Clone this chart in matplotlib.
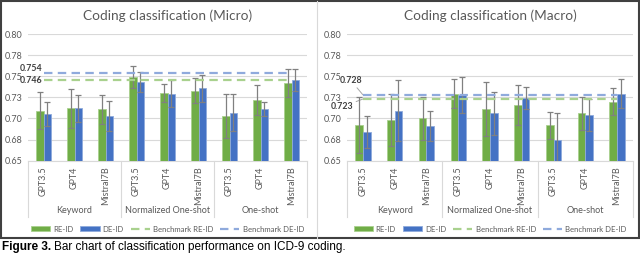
import matplotlib
matplotlib.use("Agg")
import matplotlib.pyplot as plt
from matplotlib.patches import Rectangle
from matplotlib.lines import Line2D
from matplotlib.transforms import blended_transform_factory
import numpy as np

plt.rcParams['font.family'] = ['Lato', 'DejaVu Sans']

models = ["GPT3.5", "GPT4", "Mistral7B"] * 3
groups = ["Keyword", "Normalized One-shot", "One-shot"]

micro_re = [0.709, 0.712, 0.711, 0.749, 0.730, 0.733, 0.703, 0.722, 0.742]
micro_re_err = [0.022, 0.023, 0.017, 0.013, 0.011, 0.015, 0.026, 0.018, 0.016]
micro_de = [0.705, 0.712, 0.703, 0.743, 0.729, 0.736, 0.707, 0.711, 0.746]
micro_de_err = [0.014, 0.016, 0.018, 0.012, 0.016, 0.016, 0.022, 0.008, 0.013]
micro_bench_re = 0.746
micro_bench_de = 0.754

macro_re = [0.692, 0.698, 0.700, 0.7295, 0.711, 0.716, 0.692, 0.706, 0.720]
macro_re_err = [0.033, 0.031, 0.026, 0.017, 0.032, 0.024, 0.016, 0.020, 0.016]
macro_de = [0.684, 0.709, 0.691, 0.728, 0.706, 0.724, 0.674, 0.704, 0.7295]
macro_de_err = [0.019, 0.036, 0.018, 0.021, 0.025, 0.013, 0.033, 0.019, 0.017]
macro_bench_re = 0.723
macro_bench_de = 0.728

yticks = [0.65, 0.675, 0.70, 0.725, 0.75, 0.775, 0.80]
ytick_labels = ["0.65", "0.68", "0.70", "0.73", "0.75", "0.78", "0.80"]

GREEN = "#70AD47"
BLUE = "#4472C4"
LGREEN = "#A9D18E"
LBLUE = "#8FAADC"
TXT = "#595959"
GRID = "#D9D9D9"

W, H = 640, 257
fig = plt.figure(figsize=(W / 100, H / 100), dpi=100)

def px_axes(x0, x1, ytop, ybot):
    return fig.add_axes([x0 / W, (H - ybot) / H, (x1 - x0) / W, (ybot - ytop) / H])

def draw(ax, title, re, re_err, de, de_err, b_re, b_de, label_mode):
    x = np.arange(len(models))
    bw = 0.24
    ek = dict(ecolor="#808080", elinewidth=0.9, capsize=2, capthick=0.9)
    h1 = ax.bar(x - bw / 2, re, bw, yerr=re_err, color=GREEN, edgecolor=LGREEN,
                linewidth=0.6, error_kw=ek, zorder=3, label="RE-ID")
    h2 = ax.bar(x + bw / 2, de, bw, yerr=de_err, color=BLUE, edgecolor=LBLUE,
                linewidth=0.6, error_kw=ek, zorder=3, label="DE-ID")
    dash = (0, (3.8, 2.4))
    h3, = ax.plot([x[0], x[-1]], [b_re, b_re], color=LGREEN, lw=1.6, ls=dash,
                  zorder=4, label="Benchmark RE-ID")
    h4, = ax.plot([x[0], x[-1]], [b_de, b_de], color=LBLUE, lw=1.6, ls=dash,
                  zorder=4, label="Benchmark DE-ID")
    ax.set_xlim(-0.5, len(models) - 0.5)
    ax.set_ylim(0.65, 0.80)
    ax.set_yticks(yticks)
    ax.set_yticklabels(ytick_labels)
    ax.set_xticks(x)
    ax.set_xticklabels(models, rotation=90)
    ax.tick_params(axis="y", length=0, labelsize=6.5, labelcolor=TXT, pad=4)
    ax.tick_params(axis="x", length=0, labelsize=6.5, labelcolor=TXT, pad=4)
    ax.grid(axis="y", color=GRID, lw=0.8, zorder=0)
    ax.set_axisbelow(True)
    for s in ["top", "right", "left"]:
        ax.spines[s].set_visible(False)
    ax.spines["bottom"].set_color(GRID)
    ax.spines["bottom"].set_linewidth(0.8)
    ax.set_title(title, fontsize=9.8, color=TXT, pad=10)
    tr = blended_transform_factory(ax.transData, ax.transAxes)
    for b in [-0.5, 2.5, 5.5, 8.5]:
        ax.plot([b, b], [0, -0.445], color=GRID, lw=0.8, transform=tr, clip_on=False)
    for i, g in enumerate(groups):
        ax.text(3 * i + 1, -0.397, g, transform=tr, ha="center", va="center",
                fontsize=6.5, color=TXT)
    lab = dict(fontsize=6.3, color="#404040", fontweight="bold")
    if label_mode == "micro":
        ax.annotate(f"{b_de:.3f}", xy=(x[0], b_de), xytext=(-0.5, 3.2),
                    textcoords="offset points", ha="right", va="center", **lab)
        ax.annotate(f"{b_re:.3f}", xy=(x[0], b_re), xytext=(-0.5, -0.3),
                    textcoords="offset points", ha="right", va="center", **lab)
    else:
        ap = dict(arrowstyle="-", color="#A6A6A6", lw=0.7, shrinkA=0, shrinkB=0)
        ax.annotate(f"{b_de:.3f}", xy=(x[0], b_de), xytext=(-8.6, 10.3),
                    textcoords="offset points", ha="center", va="center",
                    arrowprops=ap, **lab)
        ax.annotate(f"{b_re:.3f}", xy=(x[0], b_re), xytext=(-15, -5.6),
                    textcoords="offset points", ha="center", va="center",
                    arrowprops=ap, **lab)
    ax.legend(handles=[h1, h2, h3, h4], loc="center", bbox_to_anchor=(0.5, -0.54),
              ncol=4, frameon=False, fontsize=5.6, handlelength=2.45,
              handleheight=0.6, columnspacing=0.9, handletextpad=0.4,
              labelcolor=TXT, borderaxespad=0, borderpad=0)

ax1 = px_axes(28, 307, 34, 160.7)
draw(ax1, "Coding classification (Micro)", micro_re, micro_re_err, micro_de,
     micro_de_err, micro_bench_re, micro_bench_de, "micro")
ax2 = px_axes(347, 633, 34, 160.7)
draw(ax2, "Coding classification (Macro)", macro_re, macro_re_err, macro_de,
     macro_de_err, macro_bench_re, macro_bench_de, "macro")

# frames
fig.add_artist(Rectangle((1 / W, (H - 238) / H), 638 / W, 237 / H,
                         transform=fig.transFigure, fill=False,
                         edgecolor="#404040", lw=1.5))
fig.add_artist(Line2D([317 / W, 317 / W], [(H - 238) / H, (H - 1) / H],
                      transform=fig.transFigure, color=GRID, lw=0.8))

t1 = fig.text(2 / W, (H - 247) / H, "Figure 3.", fontsize=8.5, va="center",
              ha="left", family="Liberation Sans", fontweight="bold")
fig.canvas.draw()
bb = t1.get_window_extent()
fig.text(bb.x1 / W + 3 / W, (H - 247) / H,
         "Bar chart of classification performance on ICD-9 coding.",
         fontsize=8.5, va="center", ha="left", family="Liberation Sans")

fig.savefig("out.png", dpi=100)
